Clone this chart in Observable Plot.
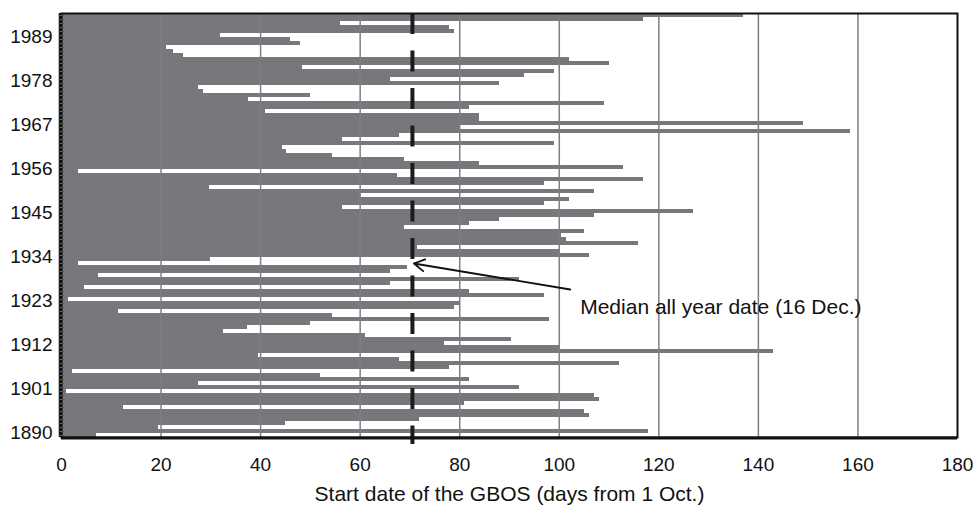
<!DOCTYPE html>
<html><head><meta charset="utf-8">
<script src="https://cdn.jsdelivr.net/npm/d3@7"></script>
<script src="https://cdn.jsdelivr.net/npm/@observablehq/plot@0.6"></script>
<style>html,body{margin:0;padding:0;background:#fff}#chart svg{display:block}</style>
</head><body><div id="chart"></div>
<script>
// Start date of GBOS (days from 1 Oct.), one value per year, 1890 -> 1995
const firstYear = 1890;
const startDays = [
  7, 118, 19.5, 45, 72, 106, 105, 12.5, 81, 108,          // 1890-1899
  107, 1, 92, 27.5, 82, 52, 2.3, 78, 112, 68,             // 1900-1909
  39.5, 143, 100, 77, 90.5, 61, 32.5, 37.3, 50, 98,       // 1910-1919
  54.5, 11.5, 79, 80, 1.5, 97, 82, 4.7, 66, 92,           // 1920-1929
  7.4, 66, 69.5, 3.4, 30, 106, 100, 71.5, 116, 101.5,     // 1930-1939
  100.5, 105, 69, 82, 88, 107, 127, 56.5, 97, 102,        // 1940-1949
  60, 107, 29.7, 97, 117, 67.5, 3.5, 113, 84, 69,         // 1950-1959
  54.5, 45.3, 44.3, 99, 56.5, 68, 158.5, 80, 149, 84,     // 1960-1969
  84, 41, 82, 109, 37.5, 50, 28.5, 27.5, 88, 66,          // 1970-1979
  93, 99, 48.4, 110, 102, 24.5, 22.5, 21, 48, 46,         // 1980-1989
  32, 79, 78, 56, 117, 137                                // 1990-1995
];
const yearTicks = [1890, 1901, 1912, 1923, 1934, 1945, 1956, 1967, 1978, 1989];
const xTicks = [0, 20, 40, 60, 80, 100, 120, 140, 160, 180];
const gridValues = [20, 40, 60, 80, 100, 120, 140, 160];
const medianDay = 70.5;
const xLabel = "Start date of the GBOS (days from 1 Oct.)";
const noteText = "Median all year date (16 Dec.)";

const years = startDays.map((_, i) => firstYear + i);
const rows = years.map((year, i) => ({year, days: startDays[i]}));

const chart = Plot.plot({
  width: 974,
  height: 506,
  marginTop: 13,
  marginBottom: 69,
  marginLeft: 61,
  marginRight: 17,
  style: {fontFamily: "'Liberation Sans', Arial, Helvetica, sans-serif", background: "#fff", color: "#111"},
  x: {domain: [0, 180], label: null},
  y: {domain: [1889.5, 1995.5], label: null},
  marks: [
    Plot.rect(rows, {x1: 0, x2: "days", y1: d => d.year - 0.5, y2: d => d.year + 0.5, fill: "#77787c", shapeRendering: "crispEdges"}),
    Plot.ruleX(gridValues, {stroke: "#7e7f82", strokeWidth: 1.5}),
    Plot.ruleX([medianDay], {stroke: "#1c1c1c", strokeWidth: 4, strokeDasharray: "21 16.5", insetBottom: -7}),
    Plot.frame({stroke: "#111", strokeWidth: 2}),
    Plot.ruleX([0], {stroke: "#111", strokeWidth: 3.5, dx: -1}),
    Plot.ruleY([0], {x1: 0, x2: 180, y: 1889.5, stroke: "#111", strokeWidth: 3, dy: 0.5}),
    Plot.ruleY(years, {x1: -0.5, x2: 0.7, stroke: "#5a5a5a", strokeWidth: 1}),
    Plot.axisY({ticks: yearTicks, tickSize: 0, tickPadding: 9, fontSize: 19, tickFormat: "d", dy: -3, label: null}),
    Plot.axisX({ticks: xTicks, tickSize: 0, tickPadding: 20, fontSize: 19, label: null}),
    Plot.text([xLabel], {frameAnchor: "bottom", dy: 63, fontSize: 21, fill: "#111"}),
    Plot.arrow([{}], {x1: 102.2, y1: 1926.5, x2: 70.8, y2: 1933, stroke: "#111", strokeWidth: 1.8, headLength: 10, bend: 0}),
    Plot.text([noteText], {x: 104.2, y: 1922, textAnchor: "start", fontSize: 21, fill: "#111"})
  ]
});
document.getElementById("chart").append(chart);
</script>
</body></html>
